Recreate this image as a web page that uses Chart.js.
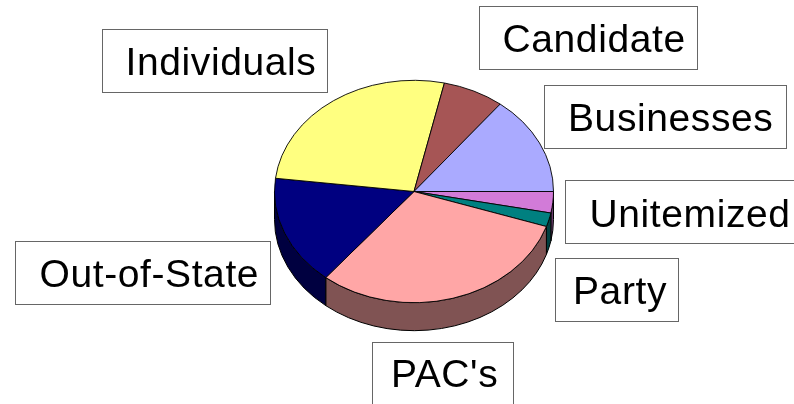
<!DOCTYPE html>
<html>
<head>
<meta charset="utf-8">
<style>
  html, body { margin: 0; padding: 0; background: #fff; overflow: hidden; }
  canvas { display: block; }
</style>
<script src="https://cdn.jsdelivr.net/npm/chart.js@4"></script>
</head>
<body>
<canvas id="funding" width="794" height="404"></canvas>
<script>
// slices run clockwise from 3 o'clock, values are percent of total
const categories = ["Unitemized", "Party", "PAC's", "Out-of-State", "Individuals", "Candidate", "Businesses"];
const shares = [3.1, 2.0, 30.8, 16.0, 26.6, 7.1, 14.4];
const topColors = ["#d27bd8", "#008080", "#ffa6a6", "#000080", "#ffff80", "#a65555", "#aaaaff"];
const sideColors = ["#693d6c", "#004040", "#805353", "#000040", "#808040", "#532a2a", "#555580"];

// label boxes: [left, top, right, bottom, textLeft, baseline]
const labelBoxes = [
  [565, 180, 794, 243, 589.5, 227],
  [555, 258, 678, 321, 573, 304],
  [372, 342, 513, 404, 391, 387],
  [15, 241, 270, 304, 39.5, 287],
  [102, 29, 327, 92, 125.5, 75],
  [479, 6, 697, 69, 502.5, 52],
  [544, 85, 786, 148, 568, 131],
];

const squash = 0.797;
const depth = 28;

// tilts the pie into an ellipse and draws the rim below it
const tiltPlugin = {
  id: "tilt",
  beforeDatasetsDraw(chart) {
    const ctx = chart.ctx;
    const arcs = chart.getDatasetMeta(0).data;
    const cx = arcs[0].x;
    const cy = arcs[0].y;
    const rx = arcs[0].outerRadius;
    const ry = rx * squash;
    arcs.forEach((arc, i) => {
      const a0 = Math.max(arc.startAngle, 0);
      const a1 = Math.min(arc.endAngle, Math.PI);
      if (a1 <= a0) return;
      ctx.beginPath();
      ctx.ellipse(cx, cy, rx, ry, 0, a0, a1);
      ctx.ellipse(cx, cy + depth, rx, ry, 0, a1, a0, true);
      ctx.closePath();
      ctx.fillStyle = sideColors[i];
      ctx.fill();
      ctx.strokeStyle = "#000";
      ctx.lineWidth = 1;
      ctx.stroke();
    });
    ctx.save();
    ctx.translate(cx, cy);
    ctx.scale(1, squash);
    ctx.translate(-cx, -cy);
  },
  afterDatasetsDraw(chart) {
    chart.ctx.restore();
  },
  afterDraw(chart) {
    const ctx = chart.ctx;
    ctx.save();
    ctx.font = '39px "Liberation Sans", Arial, sans-serif';
    ctx.letterSpacing = "0.6px";
    ctx.textAlign = "left";
    ctx.textBaseline = "alphabetic";
    categories.forEach((name, i) => {
      const b = labelBoxes[i];
      ctx.fillStyle = "#fff";
      ctx.fillRect(b[0], b[1], b[2] - b[0], b[3] - b[1]);
      ctx.strokeStyle = "#666";
      ctx.lineWidth = 1;
      ctx.strokeRect(b[0] + 0.5, b[1] + 0.5, b[2] - b[0], b[3] - b[1]);
      ctx.fillStyle = "#000";
      ctx.fillText(name, b[4], b[5]);
    });
    ctx.restore();
  },
};

new Chart(document.getElementById("funding"), {
  type: "pie",
  data: {
    labels: categories,
    datasets: [
      {
        data: shares,
        backgroundColor: topColors,
        borderColor: "#000",
        borderWidth: 1,
      },
    ],
  },
  options: {
    responsive: false,
    animation: false,
    rotation: 90,
    layout: { padding: { left: 274, right: 240, top: 51.5, bottom: 72.5 } },
    plugins: {
      legend: { display: false },
      tooltip: { enabled: false },
    },
  },
  plugins: [tiltPlugin],
});
</script>
</body>
</html>
